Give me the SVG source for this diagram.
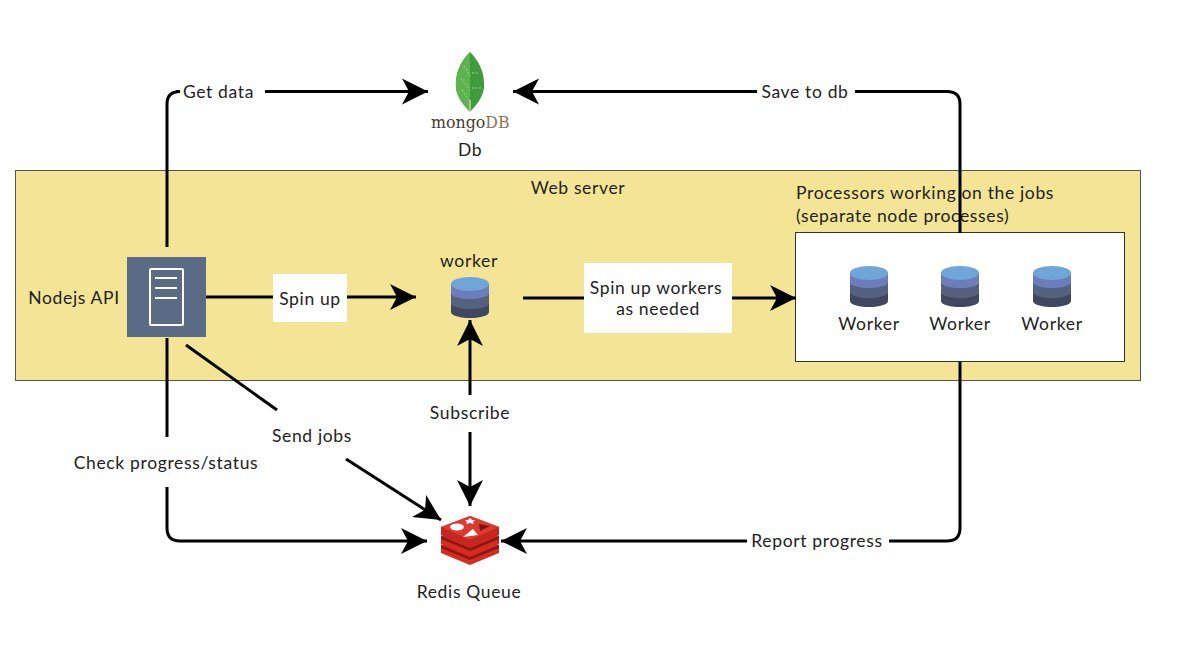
<svg xmlns="http://www.w3.org/2000/svg" width="1185" height="658" viewBox="0 0 1185 658">
<style>
text{font-family:"Lato","Liberation Sans",sans-serif;font-size:17.500px;fill:#222;text-anchor:middle;letter-spacing:.65px}
.c{fill:none;stroke:#000;stroke-width:3}
.a{marker-end:url(#h)}
.l{fill:#fff}
</style>
<defs>
<marker id="h" markerUnits="userSpaceOnUse" markerWidth="30" markerHeight="30" refX="26" refY="14" orient="auto"><path d="M0 1L26 14L0 27L7 14Z"/></marker>
<g id="cyl"><path d="M-19-14V14C-19 18-8 20 0 20S19 18 19 14V-14Z" fill="#3f4860"/><path d="M-19-14V5C-19 9-8 11 0 11S19 9 19 5V-14Z" fill="#56617f"/><path d="M-19-14V-5C-19-1-8 1 0 1S19-1 19-5V-14Z" fill="#6c7dbb"/><ellipse cy="-14" rx="19" ry="7" fill="#6fa5d8"/></g>
</defs>
<rect width="1185" height="658" fill="#fff"/>
<g id="web-server"><rect x="15.500" y="170.500" width="1125" height="210" fill="#f4e596" stroke="#555" stroke-width="1"/><text x="578" y="194">Web server</text></g>
<g id="processors"><rect x="795.500" y="232.500" width="329" height="129" fill="#fff" stroke="#333" stroke-width="1"/><text x="796" y="199" style="text-anchor:start">Processors working on the jobs</text><text x="796" y="222" style="text-anchor:start">(separate node processes)</text></g>
<g id="connectors">
<path class="c" d="M167 247V104Q167 91.500 180 91.500H176"/>
<path class="c a" d="M265 91.500H428"/>
<path class="c" d="M960 233V104Q960 91.500 947 91.500H855"/>
<path class="c a" d="M757 91.500H513"/>
<path class="c" d="M960 362V528Q960 541 947 541H889"/>
<path class="c a" d="M747 541H501"/>
<path class="c" d="M167 338V437"/>
<path class="c a" d="M167 487V528Q167 541 180 541H427"/>
<path class="c" d="M186 345L277 410"/>
<path class="c a" d="M346 459L441 520"/>
<path class="c" d="M206 297H273"/>
<path class="c a" d="M347 297H416"/>
<path class="c" d="M523 298H584"/>
<path class="c a" d="M732 298H796"/>
<path class="c a" d="M470 395V320"/>
<path class="c a" d="M470 432V506"/>
</g>
<g id="labels">
<text x="218.500" y="97.500">Get data</text>
<text x="805" y="97.500">Save to db</text>
<text x="817" y="546.700">Report progress</text>
<text x="166" y="468.700">Check progress/status</text>
<text x="312" y="441.700">Send jobs</text>
<text x="470" y="418.700">Subscribe</text>
<rect class="l" x="273" y="274" width="74" height="48"/><text x="310" y="304.500">Spin up</text>
<rect class="l" x="584" y="263" width="148" height="70"/><text x="656" y="293.500">Spin up workers</text><text x="658" y="314.500">as needed</text>
</g>
<g id="mongodb">
<path d="M470 52C460 62 455 74 456 88C457 98 465 106 469 111H471C475 106 483 98 484 88C485 74 480 62 470 52Z" fill="#3f9b3c"/>
<path d="M470 52C460 62 455 74 456 88C457 98 465 106 469 111H470Z" fill="#5cb350"/>
<path d="M464 66L470 76M461 78L470 90M462 90L470 102M472 73H479M472 88H481" stroke="#a5d39c" stroke-width="1" stroke-dasharray="2 1.500" fill="none"/>
<path d="M470 100V112" stroke="#c4d0aa" stroke-width="1.500"/>
<text x="431" y="128" style="text-anchor:start;font-family:'DejaVu Serif',serif;font-size:15.800px;fill:#4a3a30;letter-spacing:0">mongo<tspan style="fill:#8f7358">DB</tspan></text>
<text x="470" y="156">Db</text>
</g>
<g id="nodejs-api">
<rect x="127" y="257" width="79" height="80" fill="#5a6b86"/>
<rect x="150" y="269" width="33" height="56" rx="1" fill="none" stroke="#fff" stroke-width="2"/>
<path d="M155 278H177M155 288H177M155 298H177" stroke="#fff" stroke-width="2"/>
<text x="74" y="303.500">Nodejs API</text>
</g>
<g id="worker-main"><use href="#cyl" x="470" y="298"/><text x="469" y="267">worker</text></g>
<g id="worker-1"><use href="#cyl" x="869" y="287"/><text x="869" y="329.700">Worker</text></g>
<g id="worker-2"><use href="#cyl" x="960" y="287"/><text x="960" y="329.700">Worker</text></g>
<g id="worker-3"><use href="#cyl" x="1052" y="287"/><text x="1052" y="329.700">Worker</text></g>
<g id="redis">
<path d="M441 545L470 533L499 545V553L470 565L441 553Z" fill="#d42b22"/>
<path d="M441 545L470 557L499 545V548L470 560L441 548Z" fill="#8f1710"/>
<path d="M441 536L470 524L499 536V544L470 556L441 544Z" fill="#d42b22"/>
<path d="M441 536L470 548L499 536V539L470 551L441 539Z" fill="#8f1710"/>
<path d="M441 527L470 516L499 527V535L470 547L441 535Z" fill="#c5261d"/>
<path d="M441 527L470 516L499 527L470 540Z" fill="#dc3a2f"/>
<ellipse cx="457" cy="527" rx="7" ry="3.500" fill="#fff"/><path d="M470 518l2 2 3 0-2 2 1 2-4-1-4 1 1-2-2-2 3 0Z" fill="#fff"/><path d="M463 537L478 535L473 529Z" fill="#fff"/><path d="M480 531L490 526L479 524Z" fill="#7a1510"/>
<text x="469" y="597.500">Redis Queue</text>
</g>
</svg>
